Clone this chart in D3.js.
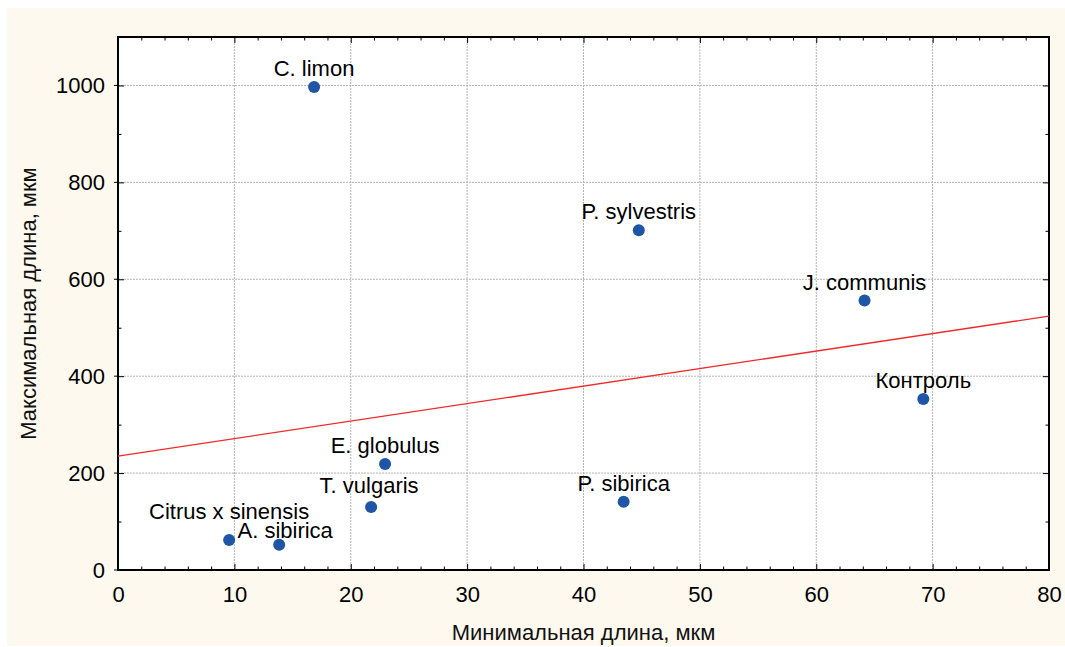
<!DOCTYPE html>
<html>
<head>
<meta charset="utf-8">
<script src="https://cdn.jsdelivr.net/npm/d3@7"></script>
<style>
  body { margin: 0; background: #fff; }
  svg { display: block; font-family: "Liberation Sans", Arial, sans-serif; }
</style>
</head>
<body>
<div id="chart"></div>
<script>
// Species / sample names
const names = ["C. limon", "P. sylvestris", "J. communis", "Контроль", "E. globulus",
               "T. vulgaris", "P. sibirica", "Citrus x sinensis", "A. sibirica"];
// Minimal length, mkm
const minLen = [16.85, 44.75, 64.15, 69.2, 22.95, 21.75, 43.45, 9.55, 13.85];
// Maximal length, mkm
const maxLen = [997, 701, 556, 353, 219, 130, 141, 62, 52];
// Fitted line ends (x, y)
const fitX = [0, 80];
const fitY = [235, 524];

const xTicks = [0, 10, 20, 30, 40, 50, 60, 70, 80];
const yTicks = [0, 200, 400, 600, 800, 1000];

const W = 1065, H = 647;
const margin = {left: 118, top: 37, right: 16, bottom: 77};
const width = W - margin.left - margin.right;
const height = H - margin.top - margin.bottom;
const fs = 22;

const svg = d3.select("#chart").append("svg")
    .attr("width", W)
    .attr("height", H);

// cream backdrop
svg.append("rect")
    .attr("x", 7).attr("y", 8)
    .attr("width", W - 7).attr("height", H - 9)
    .attr("fill", "#fdf9ee");

const g = svg.append("g")
    .attr("transform", "translate(" + margin.left + "," + margin.top + ")");

const x = d3.scaleLinear().domain([0, 80]).range([0, width]);
const y = d3.scaleLinear().domain([0, 1100]).range([height, 0]);

g.append("rect")
    .attr("width", width).attr("height", height)
    .attr("fill", "#fff");

// grid
g.append("g").selectAll("line").data(xTicks.slice(1, -1)).enter().append("line")
    .attr("x1", d => x(d)).attr("x2", d => x(d))
    .attr("y1", 0).attr("y2", height)
    .attr("stroke", "#b4b4b4").attr("stroke-dasharray", "2,1");
g.append("g").selectAll("line").data(yTicks.slice(1)).enter().append("line")
    .attr("y1", d => y(d)).attr("y2", d => y(d))
    .attr("x1", 0).attr("x2", width)
    .attr("stroke", "#b4b4b4").attr("stroke-dasharray", "2,1");

// axes: major ticks inside, minor inside on all four sides
const xMinor = d3.range(0, 81, 2).filter(d => d % 10 !== 0);
const yMinor = d3.range(100, 1100, 200);

function addAxis(axisFn, scale, tr, major, minor, pad) {
    const a = g.append("g").attr("transform", tr);
    a.call(axisFn(scale).tickValues(major).tickSize(-6).tickSizeOuter(0)
        .tickPadding(pad || 0)
        .tickFormat(pad ? d3.format("d") : ""));
    a.selectAll(".tick line").attr("stroke", "#000");
    a.select(".domain").remove();
    a.selectAll("text").attr("font-size", fs).attr("fill", "#000")
        .attr("font-family", "Liberation Sans, Arial, sans-serif");
    const m = g.append("g").attr("transform", tr);
    m.call(axisFn(scale).tickValues(minor).tickSize(-3.5).tickSizeOuter(0).tickFormat(""));
    m.selectAll(".tick line").attr("stroke", "#000");
    m.select(".domain").remove();
}
addAxis(d3.axisBottom, x, "translate(0," + height + ")", xTicks, xMinor, 16);
addAxis(d3.axisTop, x, "translate(0,0)", xTicks, xMinor, 0);
addAxis(d3.axisLeft, y, "translate(0,0)", yTicks, yMinor, 13);
addAxis(d3.axisRight, y, "translate(" + width + ",0)", yTicks, yMinor, 0);

// outer stubs of left major ticks
g.append("g").selectAll("line").data(yTicks).enter().append("line")
    .attr("x1", -4).attr("x2", 0)
    .attr("y1", d => y(d)).attr("y2", d => y(d))
    .attr("stroke", "#000");

// frame
g.append("rect")
    .attr("width", width).attr("height", height)
    .attr("fill", "none").attr("stroke", "#000").attr("stroke-width", 2);

// fitted line
g.append("line")
    .attr("x1", x(fitX[0])).attr("y1", y(fitY[0]))
    .attr("x2", x(fitX[1])).attr("y2", y(fitY[1]))
    .attr("stroke", "#f02a2a").attr("stroke-width", 1.3);

// points
const pts = names.map((n, i) => ({name: n, x: minLen[i], y: maxLen[i]}));
g.append("g").selectAll("circle").data(pts).enter().append("circle")
    .attr("cx", d => x(d.x)).attr("cy", d => y(d.y))
    .attr("r", 6)
    .attr("fill", "#1f55a6");

// labels, a few nudged the way the original places them
const nudge = {"Citrus x sinensis": [0, -21], "A. sibirica": [6, -7], "T. vulgaris": [-2, -14]};
g.append("g").selectAll("text").data(pts).enter().append("text")
    .attr("x", d => x(d.x) + (nudge[d.name] ? nudge[d.name][0] : 0))
    .attr("y", d => y(d.y) + (nudge[d.name] ? nudge[d.name][1] : -11))
    .attr("text-anchor", "middle")
    .attr("font-size", fs)
    .text(d => d.name);

// axis titles
svg.append("text")
    .attr("x", margin.left + width / 2)
    .attr("y", 640)
    .attr("text-anchor", "middle")
    .attr("font-size", fs)
    .attr("fill", "#111")
    .text("Минимальная длина, мкм");

svg.append("text")
    .attr("transform", "translate(36," + (margin.top + height / 2) + ") rotate(-90)")
    .attr("text-anchor", "middle")
    .attr("font-size", fs)
    .attr("fill", "#111")
    .text("Максимальная длина, мкм");
</script>
</body>
</html>
